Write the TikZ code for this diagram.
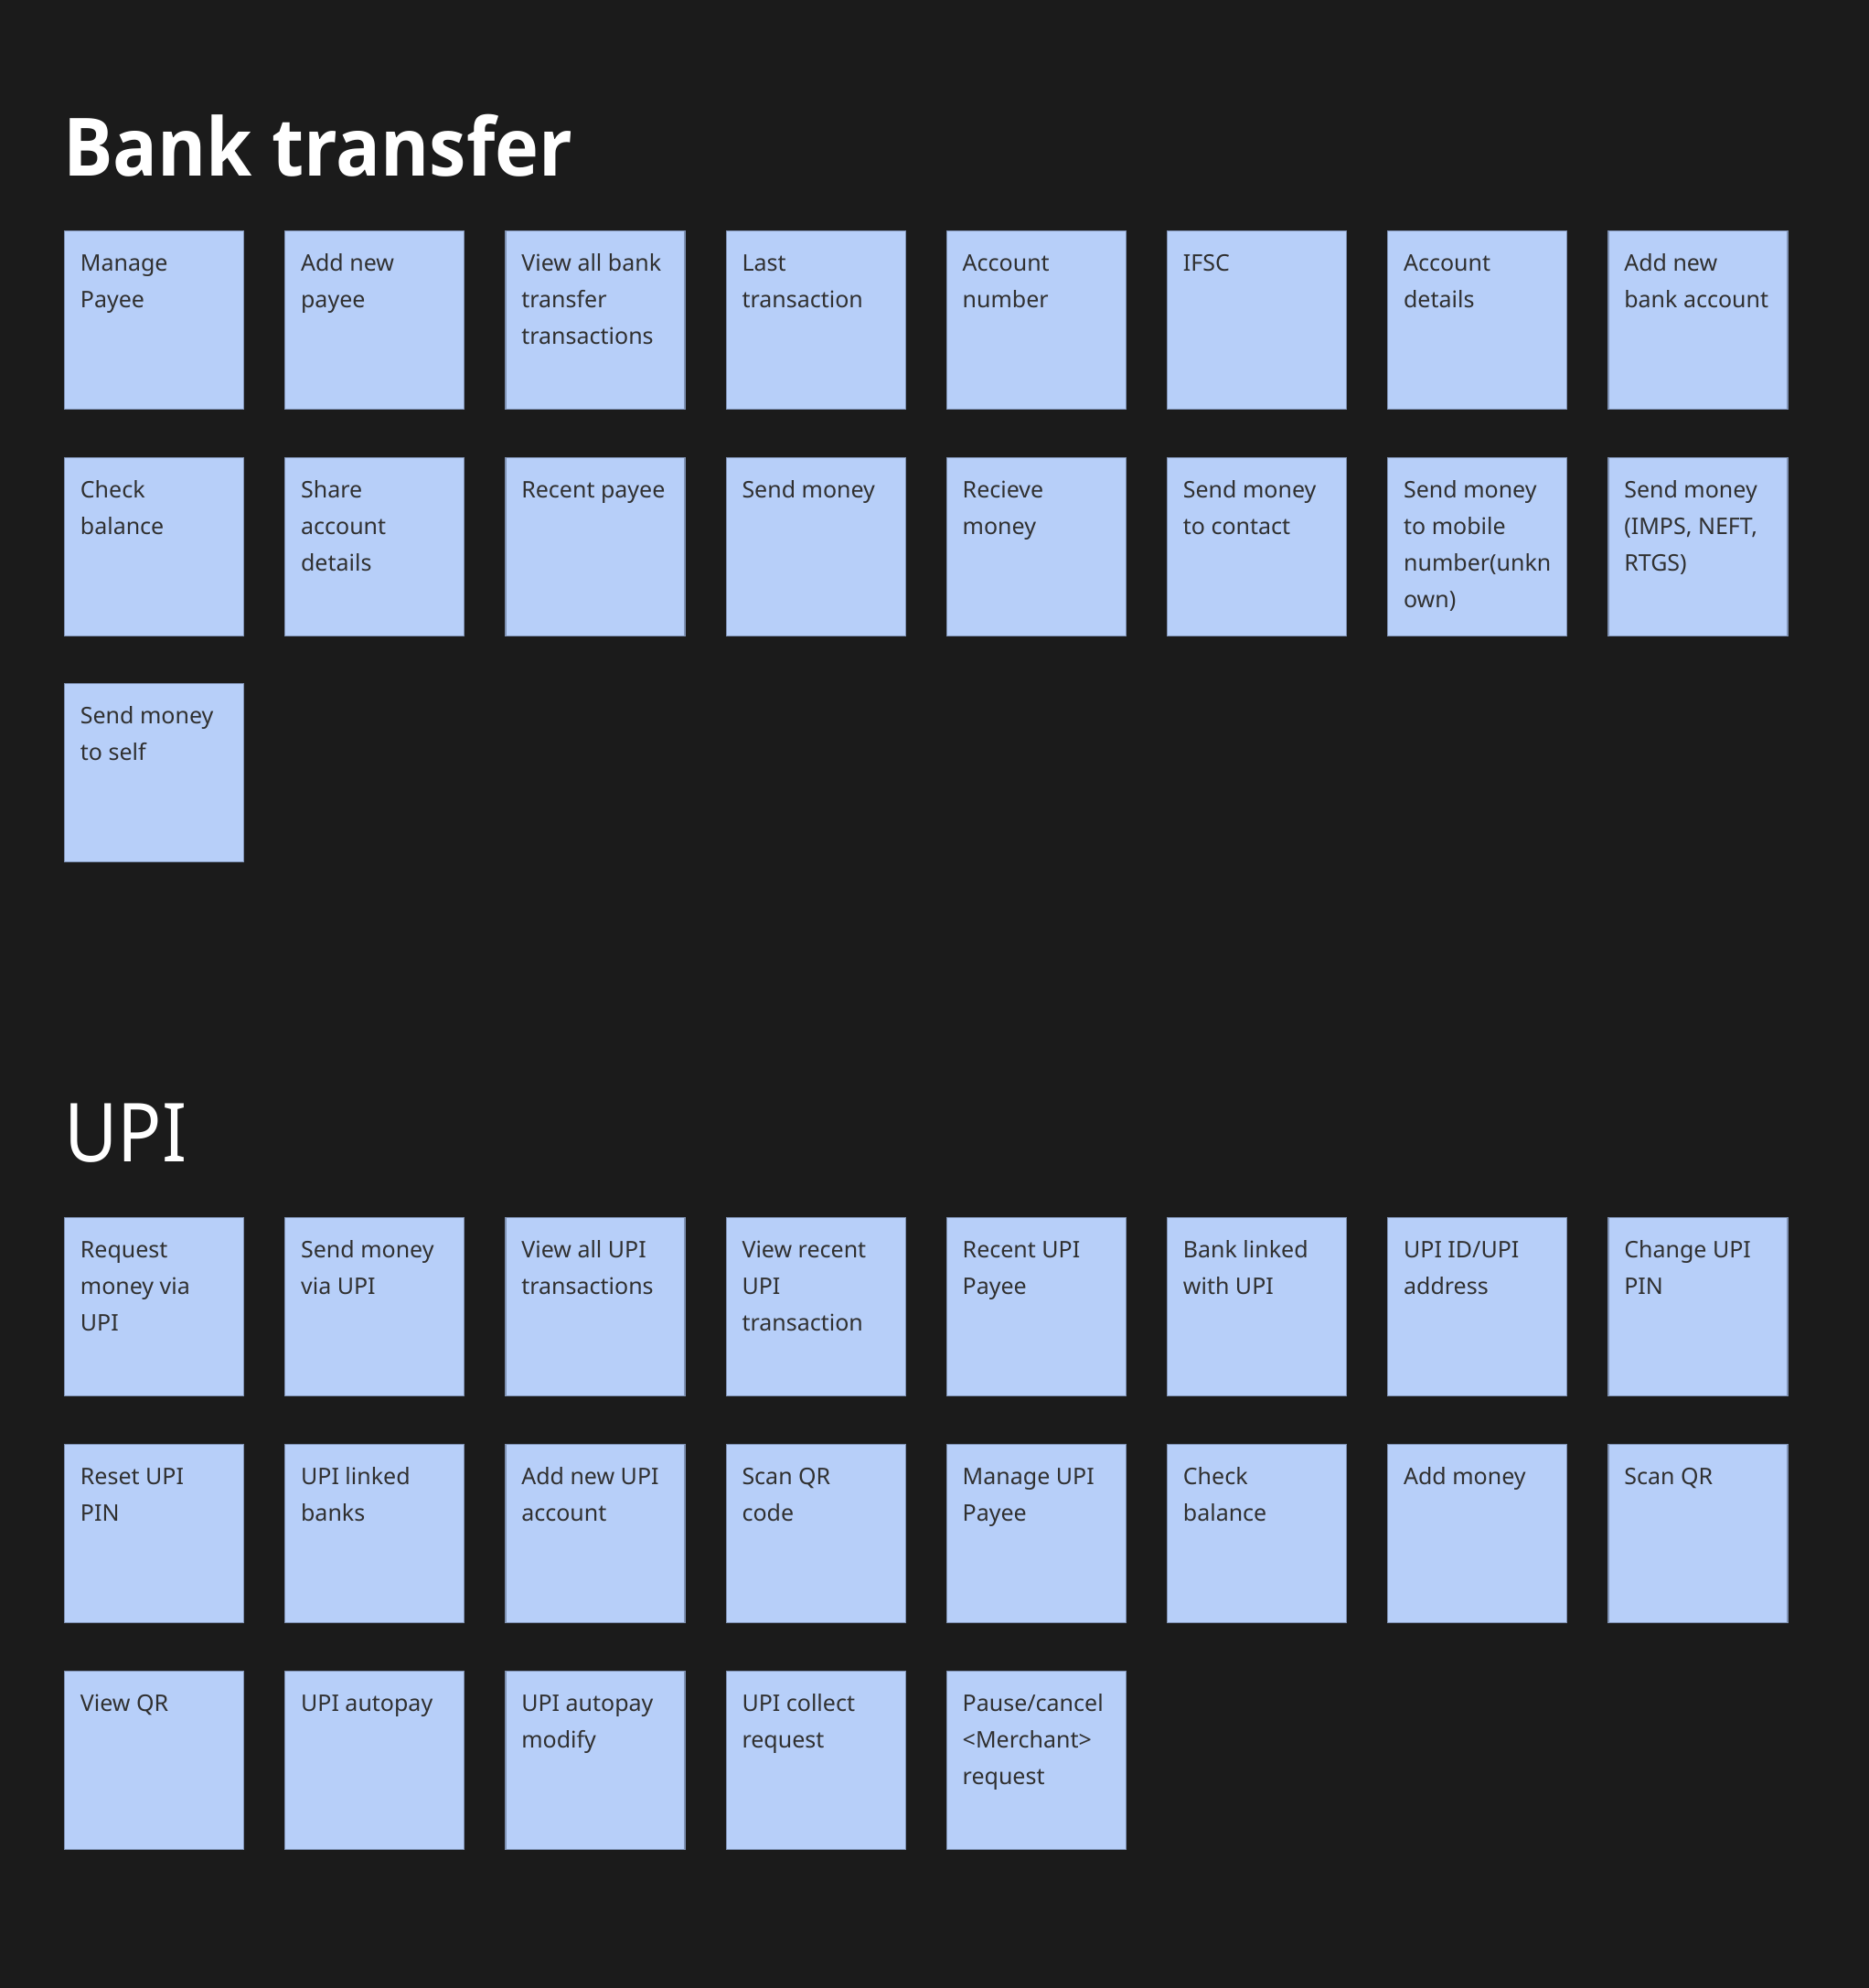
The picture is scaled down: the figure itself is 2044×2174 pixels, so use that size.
\documentclass[tikz,border=0pt]{standalone}
\usepackage{fontspec}
\setmainfont{Noto Sans}
\newfontfamily\titlefont{Open Sans}
\usepackage{graphicx}
\definecolor{bg}{HTML}{1B1B1B}
\definecolor{notefill}{HTML}{B7CFF9}
\definecolor{noteedge}{HTML}{7F92B4}
\definecolor{notetxt}{HTML}{303030}
\tikzset{
  note/.style={rectangle, fill=notefill, draw=noteedge, line width=1.1pt, minimum width=196pt, minimum height=195pt, inner sep=0pt},
  notetext/.style={inner sep=0pt, text=notetxt, font=\fontsize{25}{40}\selectfont},
  heading/.style={inner sep=0pt, text=white, anchor=base west}
}
\newcommand\mknote[4]{%
  \node[note, anchor=north west] (#3) at ({70+241.2*#1}, #2) {};
  \node[notetext, anchor=base west] (#3-t) at ({70+241.2*#1+17.7}, {#2+44.7}) {\parbox[t]{178pt}{\raggedright #4}};%
}
\begin{document}
\begin{tikzpicture}[x=1pt, y=-1pt]
\fill[bg] (0,0) rectangle (2044,2174);
\useasboundingbox (0,0) rectangle (2044,2174);
\node[heading, font=\titlefont\fontsize{88}{100}\selectfont\bfseries] (t1) at (69,192.3) {\resizebox{557pt}{\height}{Bank transfer}};
\node[heading, font=\fontsize{89}{100}\selectfont] (t2) at (70,1270) {\scalebox{0.9}[1]{UPI}};
% Bank transfer
\mknote{0}{252}{b1}{Manage\\Payee}
\mknote{1}{252}{b2}{Add new\\payee}
\mknote{2}{252}{b3}{View all bank\\transfer\\transactions}
\mknote{3}{252}{b4}{Last\\transaction}
\mknote{4}{252}{b5}{Account\\number}
\mknote{5}{252}{b6}{IFSC}
\mknote{6}{252}{b7}{Account\\details}
\mknote{7}{252}{b8}{Add new\\bank account}
\mknote{0}{499.5}{b9}{Check\\balance}
\mknote{1}{499.5}{b10}{Share\\account\\details}
\mknote{2}{499.5}{b11}{Recent payee}
\mknote{3}{499.5}{b12}{Send money}
\mknote{4}{499.5}{b13}{Recieve\\money}
\mknote{5}{499.5}{b14}{Send money\\to contact}
\mknote{6}{499.5}{b15}{Send money\\to mobile\\number(unkn\\own)}
\mknote{7}{499.5}{b16}{Send money\\(IMPS, NEFT,\\RTGS)}
\mknote{0}{747}{b17}{Send money\\to self}
% UPI
\mknote{0}{1331}{u1}{Request\\money via\\UPI}
\mknote{1}{1331}{u2}{Send money\\via UPI}
\mknote{2}{1331}{u3}{View all UPI\\transactions}
\mknote{3}{1331}{u4}{View recent\\UPI\\transaction}
\mknote{4}{1331}{u5}{Recent UPI\\Payee}
\mknote{5}{1331}{u6}{Bank linked\\with UPI}
\mknote{6}{1331}{u7}{UPI ID/UPI\\address}
\mknote{7}{1331}{u8}{Change UPI\\PIN}
\mknote{0}{1579}{u9}{Reset UPI\\PIN}
\mknote{1}{1579}{u10}{UPI linked\\banks}
\mknote{2}{1579}{u11}{Add new UPI\\account}
\mknote{3}{1579}{u12}{Scan QR\\code}
\mknote{4}{1579}{u13}{Manage UPI\\Payee}
\mknote{5}{1579}{u14}{Check\\balance}
\mknote{6}{1579}{u15}{Add money}
\mknote{7}{1579}{u16}{Scan QR}
\mknote{0}{1827}{u17}{View QR}
\mknote{1}{1827}{u18}{UPI autopay}
\mknote{2}{1827}{u19}{UPI autopay\\modify}
\mknote{3}{1827}{u20}{UPI collect\\request}
\mknote{4}{1827}{u21}{Pause/cancel\\<Merchant>\\request}
\end{tikzpicture}
\end{document}
